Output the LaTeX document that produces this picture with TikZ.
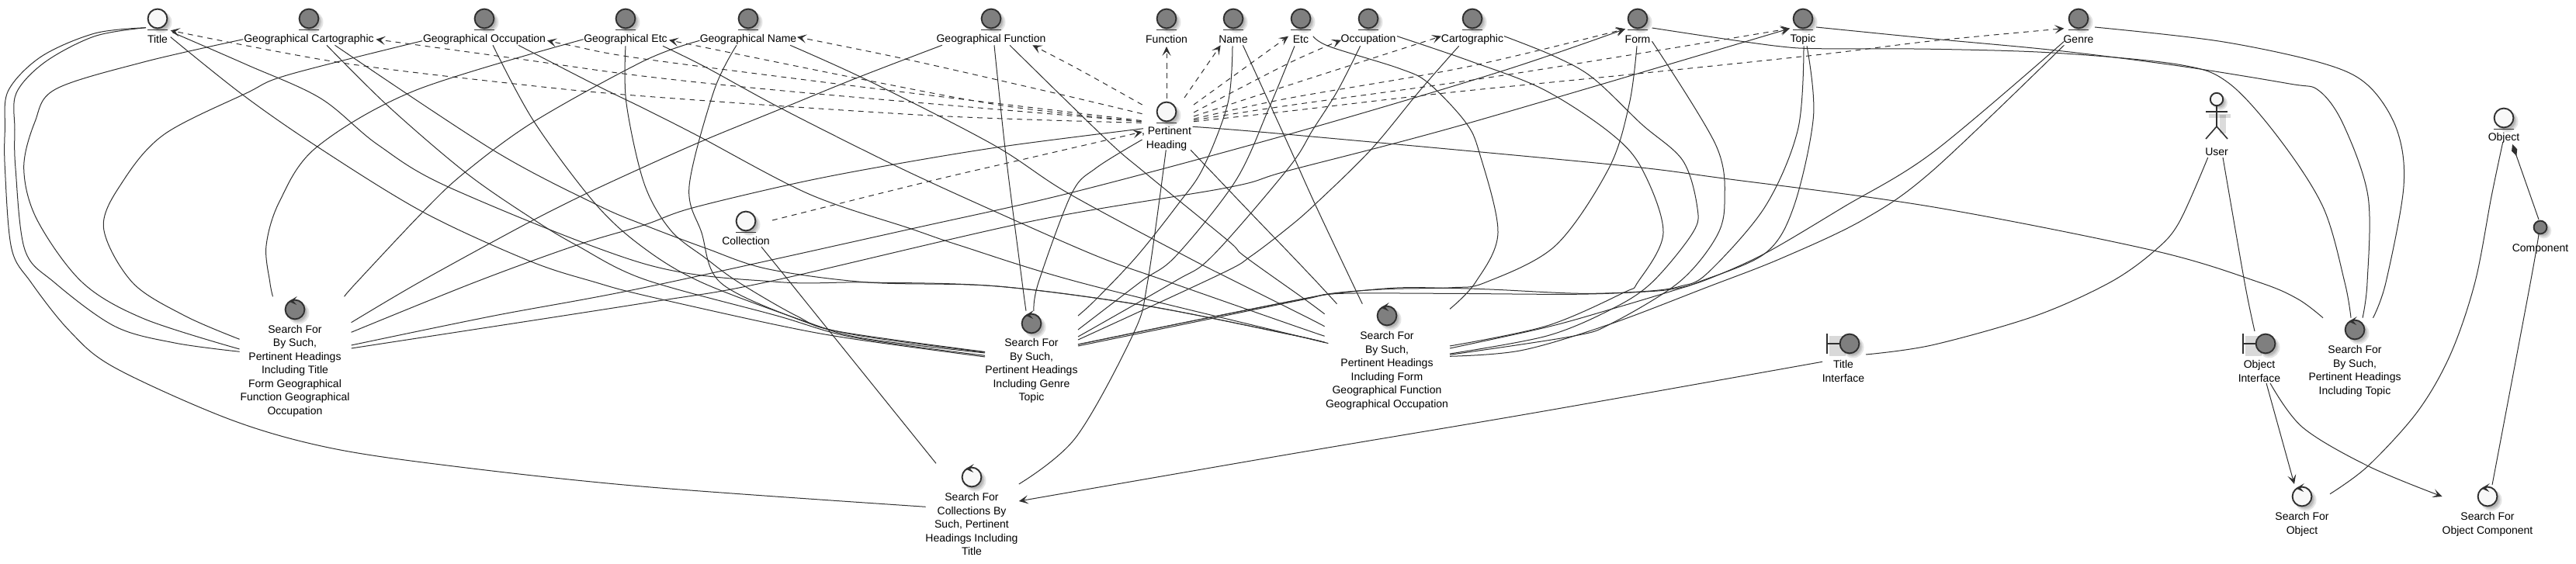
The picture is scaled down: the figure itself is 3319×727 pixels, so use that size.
\documentclass[tikz,border=0pt]{standalone}
\usepackage{fontspec}
\setmainfont{Liberation Sans}
\usetikzlibrary{calc,arrows.meta}
\definecolor{ink}{HTML}{303030}
\definecolor{dk}{HTML}{7F7F7F}
\definecolor{lt}{HTML}{F8F8F8}
\tikzset{
  ico/.style={circle,draw=ink,line width=.95pt,minimum size=12.4pt,inner sep=0pt},
  small ico/.style={circle,draw=ink,line width=.95pt,minimum size=8.4pt,inner sep=0pt,fill=dk},
  stroke/.style={draw=ink,line width=.95pt},
  txt/.style={font=\fontsize{7}{8.75}\selectfont,align=center,inner sep=0pt,text=black,yshift=-.4pt},
  conn/.style={draw=ink,line width=.5pt},
  dsh/.style={conn,dash pattern=on 3.4pt off 3pt},
  tip/.style={-{Stealth[length=6pt,width=5.6pt,inset=2.8pt]}},
  dia/.style={-{Diamond[length=8pt,width=3.8pt,fill=ink]}}
}
\newcommand\lnk[2][]{\draw[conn,#1] plot[smooth,tension=.55] coordinates {#2};}
\newcommand\glow[3]{%
  \fill[black,opacity=.10] ($(#1,#2)+(4.5,4.5)$) circle (#3+.7pt);
  \fill[black,opacity=.10] ($(#1,#2)+(4,4)$) circle (#3);
  \fill[black,opacity=.12] ($(#1,#2)+(3.5,3.5)$) circle (#3-.6pt);}
\newcommand\entity[4]{% name x y fill
  \glow{#2}{#3}{6.3pt}
  \draw[stroke] ($(#2,#3)+(-13,14.5)$) -- ($(#2,#3)+(13,14.5)$);
  \node[ico,fill=#4] (#1) at (#2,#3) {};}
\newcommand\control[4]{% name x y fill
  \glow{#2}{#3}{6.3pt}
  \node[ico,fill=#4] (#1) at (#2,#3) {};
  \fill[ink] ($(#1)+(2.8,-17)$) -- ($(#1)+(-8,-10.5)$) -- ($(#1)+(2.2,-6)$) -- ($(#1)+(-2,-11)$) -- cycle;}
\newcommand\boundary[4]{% name x y fill
  \fill[black,opacity=.15] ($(#2,#3)+(-26,-10)$) rectangle ($(#2,#3)+(-5,16)$);
  \glow{#2}{#3}{6.3pt}
  \node[ico,fill=#4] (#1) at (#2,#3) {};
  \draw[stroke] (#1.west) -- ($(#1)+(-29,0)$);
  \draw[stroke] ($(#1)+(-29,-13)$) -- ($(#1)+(-29,13)$);}
\begin{document}
\begin{tikzpicture}[x=.5pt,y=-.5pt]
\useasboundingbox (0,0) rectangle (3319,727);
% ---- entities
\entity{title}{203}{24}{lt}
\entity{gcart}{398}{24}{dk}
\entity{gocc}{624}{24}{dk}
\entity{getc}{806}{24}{dk}
\entity{gname}{964}{24}{dk}
\entity{gfunc}{1277}{24}{dk}
\entity{func}{1503}{24}{dk}
\entity{name}{1589}{24}{dk}
\entity{etc}{1676}{24}{dk}
\entity{occ}{1763}{24}{dk}
\entity{cart}{1897}{24}{dk}
\entity{form}{2110}{24}{dk}
\entity{topic}{2323}{24}{dk}
\entity{genre}{2678}{24}{dk}
\entity{ph}{1503}{144}{lt}
\entity{coll}{961}{285}{lt}
\entity{object}{3226}{152}{lt}
\glow{3273}{293}{4.2pt}
\node[small ico] (comp) at (3273,293) {};
% user
\fill[black,opacity=.14] (2860,148) rectangle (2868,172);
\fill[black,opacity=.14] (2846,147) rectangle (2874,152);
\glow{2856}{128}{4pt}
\node[circle,draw=ink,line width=.95pt,fill=lt,minimum size=8.2pt,inner sep=0pt] (user) at (2856,128) {};
\draw[stroke,line width=.8pt] (user.south) -- ($(user)+(0,35)$) -- ($(user)+(-14,51)$);
\draw[stroke,line width=.8pt] ($(user)+(0,35)$) -- ($(user)+(14,51)$);
\draw[stroke,line width=.8pt] ($(user)+(-14,16)$) -- ($(user)+(14,16)$);
% controls
\control{sa}{380}{399}{dk}
\control{sb}{1329}{417}{dk}
\control{sc}{1787}{407}{dk}
\control{sd}{3034}{425}{dk}
\control{se}{1252}{615}{lt}
\control{so}{2966}{640}{lt}
\control{sp}{3205}{640}{lt}
\boundary{ti}{2383}{443}{dk}
\boundary{oi}{2919}{443}{dk}
% ---- labels
\node[txt] (Ltitle) at (203,50) {Title};
\node[txt] (Lgcart) at (398,50) {Geographical Cartographic};
\node[txt] (Lgocc) at (624,50) {Geographical Occupation};
\node[txt] (Lgetc) at (806,50) {Geographical Etc};
\node[txt] (Lgname) at (964,50) {Geographical Name};
\node[txt] (Lgfunc) at (1277,50) {Geographical Function};
\node[txt] (Lfunc) at (1503,50) {Function};
\node[txt] (Lname) at (1589,50) {Name};
\node[txt] (Letc) at (1676,50) {Etc};
\node[txt] (Locc) at (1763,50) {Occupation};
\node[txt] (Lcart) at (1897,50) {Cartographic};
\node[txt] (Lform) at (2110,50) {Form};
\node[txt] (Ltopic) at (2323,50) {Topic};
\node[txt] (Lgenre) at (2678,50) {Genre};
\node[txt] (Lph) at (1503,178) {, Pertinent\\Heading};
\node[txt] (Lcoll) at (961,310) {Collection};
\node[txt] (Luser) at (2856,195) {User};
\node[txt] (Lobject) at (3226,177) {Object};
\node[txt] (Lcomp) at (3273,320) {Component};
\node[txt] (Lsa) at (380,477.5) {Search For\\By Such,\\Pertinent Headings\\Including Title\\Form Geographical\\Function Geographical\\Occupation};
\node[txt] (Lsb) at (1329,477.3) {Search For\\By Such,\\Pertinent Headings\\Including Genre\\Topic};
\node[txt] (Lsc) at (1787,477) {Search For\\By Such,\\Pertinent Headings\\Including Form\\Geographical Function\\Geographical Occupation};
\node[txt] (Lsd) at (3034,477.6) {Search For\\By Such,\\Pertinent Headings\\Including Topic};
\node[txt] (Lse) at (1252,675) {Search For\\Collections By\\Such, Pertinent\\Headings Including\\Title};
\node[txt] (Lti) at (2375,477.6) {Title\\Interface};
\node[txt] (Loi) at (2911,477.6) {Object\\Interface};
\node[txt] (Lso) at (2966,675) {Search For\\Object};
\node[txt] (Lsp) at (3205,675) {Search For\\Object Component};
% ---- solid connectors into Search sa
\lnk{($(title)+(-15,11.7)$) (122,43) (53,73) (10.6,117) (6.4,167) (6.4,217) (14.8,320) (40,364) (90,427) (148,474) (296.5,540.7) (423.5,577) (582,600.7) (830,627.3) ($(se)+(-59.4,38.3)$)}
\lnk{($(title)+(-15,11.7)$) (122,46.7) (58,80) (21,120) (19,167) (20,217) (32,322) (70,364) (148,420.7) (225,442) ($(sa)+(-71.4,54.3)$)}
\lnk{($(gcart)+(-84.6,26.7)$) (185,80) (71.5,115) (45,157) (30.7,217) (47.6,283) (106,364) (185,410.7) ($(sa)+(-71.4,51)$)}
\lnk{($(gocc)+(-80,28.7)$) (370.6,96.7) (317.6,120) (211.8,173) (158.8,233) (133.4,293) (170.5,364) (238,407) ($(sa)+(-71.4,38.3)$)}
\lnk{($(getc)+(-54.3,26.7)$) (534.7,116.7) (407.6,190) (360,260) (343,316.7) (347.8,364) ($(sa)+(-28.5,-16.7)$)}
\lnk{($(gname)+(-62.5,28.3)$) (830,78.3) (688,156.7) (598,223) (545,273) (459.5,364) ($(sa)+(63.6,-16.7)$)}
\lnk{($(gfunc)+(-63.2,34.3)$) (1105,100) (1007,140) (909,180) (830,215) (747.5,253.3) (672,291.7) (540,364) ($(sa)+(72.6,16.7)$)}
\lnk{($(sa)+(72.6,29.3)$) (611.4,364) (741,316.7) (830,290) (891,268.3) (1031,235) (1153,211.7) (1296,188.3) ($(ph)+(-30,21.7)$)}
\lnk[tip]{($(sa)+(72.6,46)$) (635,407.3) (830,370.7) (1174,295) (1380.5,248.3) (1660,173.3) (1930,93.3) ($(form)+(-16,13.3)$)}
\lnk[tip]{($(sa)+(72.6,50)$) (830,390.7) (986,364) (1330,285) (1582,241.7) (1660,220) (1887.6,160) ($(topic)+(-17,12.7)$)}
% ---- pertinent heading solids
\lnk{($(ph)+(-0.7,49.3)$) (1478.5,364) (1460,430.7) (1386,564) ($(se)+(60.8,9)$)}
\lnk{($(ph)+(-31.4,36)$) (1412,216.7) (1380.5,250) (1338,364) ($(sb)+(3,-16.3)$)}
\lnk{($(gfunc)+(4,34.3)$) (1296,200) (1317,364) ($(sb)+(-7,-16.3)$)}
% ---- sb right
\lnk{($(name)+(-1,35.3)$) (1582,133) (1550,216.7) (1518,263) (1465,330) (1413,385) ($(sb)+(60,-10)$)}
\lnk{($(etc)+(-8,35.3)$) (1634.7,140) (1592,233) (1515,330) (1470,363) ($(sb)+(60,8)$)}
\lnk{($(occ)+(-10.4,35.3)$) (1723.5,116.7) (1691.8,166.7) (1660,216.7) (1562,330) (1513,363) ($(sb)+(60,17)$)}
\lnk{($(cart)+(-17.3,35.3)$) (1829.4,116.7) (1766,193.3) (1694.4,263.3) (1660,293.3) (1612,330) (1573,353) ($(sb)+(60,21)$)}
\lnk{($(sb)+(60,27)$) (1530,415) (1680,385) (1723.5,377.3) (1790,372.5) (1871.8,370.7) (1914,364) (2004,316.7) (2073,216.7) (2099.4,133) ($(form)+(-1,35.3)$)}
\lnk{($(sb)+(60,27)$) (1530,415) (1680,385) (1723.5,378) (1800,371) (1870,371.5) (1926.7,373.3) (2036.7,378.3) (2120,375.5) (2165,369) (2200,352) (2274,266.7) (2316.5,166.7) ($(topic)+(1,35.3)$)}
\lnk{($(sb)+(60,29)$) (1530,417) (1680,386) (1723.5,378.5) (1860,378.3) (2026.7,379.3) (2120,376) (2160,371.7) (2200,360) (2274,326.7) (2375,267) (2490,196.7) ($(genre)+(-18.5,29.3)$)}
% ---- sc right
\lnk{($(etc)+(15.8,22.7)$) (1713,60) (1803,88.3) (1840,106.7) (1887.6,156.7) (1906,196.7) (1930,300) (1901,364) ($(sc)+(81,-8.7)$)}
\lnk{($(occ)+(37,22.7)$) (1893,78.3) (1988,115) (2073,170) (2115,216.7) (2143,300) (2110,364) (2093,376.7) (1993,420) ($(sc)+(81,39)$)}
\lnk{($(cart)+(41,22.7)$) (2000.8,71.7) (2051.7,100) (2115,160) (2168,206.7) (2186.7,266.7) (2181,300) (2128.5,364) (2076.7,398.3) (1993,433) ($(sc)+(81,49)$)}
\lnk{($(form)+(18.5,29.3)$) (2210.6,186.7) (2222,260) (2210.6,306.7) (2163,364) (2076.7,416.7) (2026.7,433.3) ($(sc)+(81,50.3)$)}
\lnk{($(topic)+(5,35.3)$) (2336.5,150) (2311,266.7) (2274,326.7) (2189,363.3) (2160,373.3) (2076.7,398.3) (1993,421.7) ($(sc)+(81,42)$)}
\lnk{($(genre)+(-18.6,34.3)$) (2490,220) (2401,283) (2295,333) (2200,370) (2073,418.3) (1960,451.7) ($(sc)+(81,52.3)$)}
% ---- sc top and left
\lnk{($(name)+(12.4,34.3)$) (1660,186.7) (1694.4,263.3) (1742,364) ($(sc)+(-31.7,-15.3)$)}
\lnk{($(ph)+(31,49.3)$) (1613.5,276.7) (1660,325) (1697,364) ($(sc)+(-64.5,-15.3)$)}
\lnk{($(gfunc)+(24,34.3)$) (1425.7,180) (1476,223.3) (1582,310) (1603,330) (1680,385) ($(sc)+(-80.4,-2.3)$)}
\lnk{($(gname)+(54,34.3)$) (1121,105) (1280,186.7) (1375,248.3) (1527,330) (1592,363) (1680,407) ($(sc)+(-80.4,13.7)$)}
\lnk{($(getc)+(48,35.3)$) (909.4,86.7) (1007,140) (1153,213.3) (1280,271.7) (1413,330) (1502,362) (1660,417.3) ($(sc)+(-80.4,26.3)$)}
\lnk{($(gocc)+(44,34.3)$) (765,108.3) (830,140) (899,175) (1042,250) (1174,295) (1237.6,316.7) (1391,364) (1680,435) ($(sc)+(-80.4,34.3)$)}
\lnk{($(gcart)+(33.5,34.3)$) (635,193.3) (767.6,263.3) (830,290) (909.4,320) (989,346.7) (1118.5,364) (1285,369) (1476,394) (1660,430.7) ($(sc)+(-80.4,34.3)$)}
\lnk{($(title)+(19,17.7)$) (317.6,83.3) (413,126.7) (487,186.7) (582,243) (830,340) (1000,363.3) (1118,364) (1285,369) (1476,394) (1660,430.7) ($(sc)+(-80.4,34.3)$)}
% ---- sb left
\lnk{($(title)+(16.7,23.7)$) (312,121.7) (407.6,188.3) (545,273.3) (683,336.7) (767.6,364) (830,380.7) (1000,418.7) (1100,437) ($(sb)+(-60,43)$)}
\lnk{($(gcart)+(23,34.3)$) (500,136.7) (601,223.3) (688,283.3) (743.8,316.7) (830,360) (1000,406.7) (1100,435) ($(sb)+(-60,41.3)$)}
\lnk{($(gocc)+(11,34.3)$) (688,156.7) (767.6,263.3) (830,320) (904,364) (1036.5,414) (1110.6,435.7) ($(sb)+(-60,38)$)}
\lnk{($(getc)+(0,35.3)$) (807,133) (830,236.7) (864,296.7) (909.4,333) (951.8,364) (1026,407) (1079,427) ($(sb)+(-60,36.5)$)}
\lnk{($(gname)+(-15,34.3)$) (920,116.7) (888,240) (904,300) (928,364) (1026,410.7) (1105,432.3) ($(sb)+(-60,37)$)}
% ---- collection
\lnk{($(coll)+(20,33.3)$) (1018,364) ($(se)+(-46,-17.7)$)}
\lnk[dsh,tip]{($(coll)+(34,-1)$) (1200,233) (1298.5,210) ($(ph)+(-31.4,26)$)}
% ---- dashed from pertinent heading
\lnk[dsh,tip]{($(ph)+(-32.4,14.3)$) (1200.6,149) (830,124) (656.4,107.3) (434,80) ($(title)+(16.7,15.3)$)}
\lnk[dsh,tip]{($(ph)+(-32.4,12.7)$) (1041.8,120) (830,98.3) (661.7,75) ($(gcart)+(86.4,26.7)$)}
\lnk[dsh,tip]{($(ph)+(-32.4,11.5)$) (1150,117) (830,76) (738.5,59.3) ($(gocc)+(81,28.3)$)}
\lnk[dsh,tip]{($(ph)+(-32.4,12.7)$) (1296,136.7) (1116,103.3) ($(getc)+(56,27.7)$)}
\lnk[dsh,tip]{($(ph)+(-31.4,2.7)$) (1359,120) (1169,76.7) ($(gname)+(63,23.7)$)}
\lnk[dsh,tip]{($(ph)+(-31.4,-9)$) (1391,90) ($(gfunc)+(53.3,34.3)$)}
\lnk[dsh,tip]{($(ph)+(0,-17.3)$) ($(func)+(0,36)$)}
\lnk[dsh,tip]{($(ph)+(23,-18)$) ($(name)+(-16.3,34.3)$)}
\lnk[dsh,tip]{($(ph)+(35,-9)$) ($(etc)+(-16,22.7)$)}
\lnk[dsh,tip]{($(ph)+(35,1)$) (1660,81.7) ($(occ)+(-35,27.7)$)}
\lnk[dsh,tip]{($(ph)+(35,6)$) (1660,110) ($(cart)+(-40,22.7)$)}
\lnk[dsh,tip]{($(ph)+(35,9.3)$) (1660,126.7) (1887.6,86.7) ($(form)+(-16,13.3)$)}
\lnk[dsh,tip]{($(ph)+(35,11)$) (1660,136) (1898,103) (2136.4,65) ($(topic)+(-17,12.7)$)}
\lnk[dsh,tip]{($(ph)+(35,12.7)$) (1660,143.3) (1861,120) (2110,95) (2348,70) (2490,52.7) ($(genre)+(-18.6,12.7)$)}
% ---- sd
\lnk{($(ph)+(33.7,19.3)$) (1660,173.3) (2073,211.7) (2221,230) (2490,266.7) (2776,323.3) (2911,364) (2961,385.7) ($(sd)+(-41,-15.3)$)}
\lnk{($(form)+(18.5,12)$) (2221,50) (2295,60) (2343,62.7) (2490,63.3) (2649,68.3) (2807.6,83.3) (2871,106.7) (2935,176.7) (2993,266.7) (3021,364) ($(sd)+(-5,-15.3)$)}
\lnk{($(topic)+(17,11)$) (2490,50) (2649,65) (2807.6,85) (2950,108) (2987.6,116.7) (3019,160) (3051,253) (3050,364) ($(sd)+(10,-15.3)$)}
\lnk{($(genre)+(21,11)$) (2860.6,53.3) (2993,81.7) (3051,110) (3088,166.7) (3097,240) (3074,364) ($(sd)+(23.5,-15.3)$)}
% ---- right side
\lnk{($(user)+(-11.3,75)$) (2807.6,286.7) (2776,323.3) (2718.6,364) (2622,407.3) (2490,444.7) ($(ti)+(21,14)$)}
\lnk{($(user)+(8,75)$) (2892,364) ($(oi)+(-14,-16)$)}
\lnk[tip]{($(ti)+(-35,23.3)$) (1977.6,532) (1660,585.7) ($(se)+(60.8,31)$)}
\lnk[tip]{($(oi)+(1,51)$) ($(so)+(-10,-16)$)}
\lnk[tip]{($(oi)+(6,51)$) (2966.5,550.7) (3051,600.7) ($(sp)+(-58.5,0)$)}
\lnk{($(so)+(36,-3.3)$) (3051,600.7) (3114.7,530.7) (3157,457.3) (3188.8,364) (3210,253.3) ($(object)+(-1.3,31.3)$)}
\lnk{($(sp)+(6,-15)$) (3260.3,364) ($(comp)+(-2,8.7)$)}
\lnk[dia]{($(comp)+(-2,-10)$) ($(object)+(11,34)$)}
\end{tikzpicture}
\end{document}
